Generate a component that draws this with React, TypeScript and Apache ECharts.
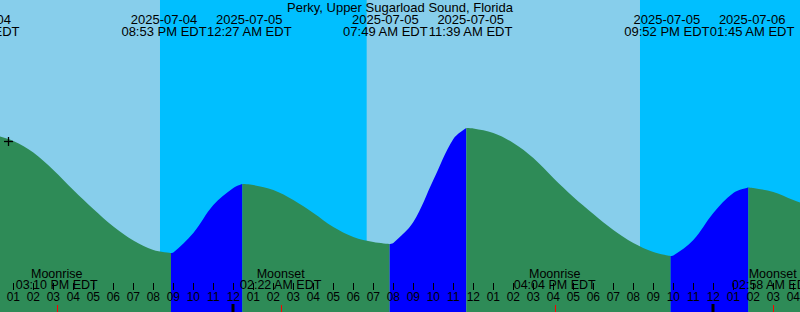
import React, { useEffect, useRef } from 'react';
import * as echarts from 'echarts';

const stationName = 'Perky, Upper Sugarload Sound, Florida';

// Hours since 2025-07-04 12:00 PM EDT, and water level (ft) read at each hour
const hours = [0, 1, 2, 3, 4, 5, 6, 7, 8, 9, 10, 11, 12, 13, 14, 15, 16, 17, 18, 19, 20,
  21, 22, 23, 24, 25, 26, 27, 28, 29, 30, 31, 32, 33, 34, 35, 36, 37, 38, 39, 40, 41];
const levels = [1.55, 1.49, 1.375, 1.2, 1.0, 0.81, 0.635, 0.495, 0.4, 0.375, 0.57, 0.85, 1.02,
  1.05, 1.0, 0.9, 0.77, 0.63, 0.53, 0.48, 0.47, 0.68, 1.1, 1.51, 1.615, 1.57, 1.47, 1.32,
  1.12, 0.93, 0.76, 0.6, 0.47, 0.38, 0.345, 0.5, 0.77, 0.97, 1.02, 0.98, 0.9, 0.83];

// Tide extremes
const tideKinds = ['High', 'Low', 'High', 'Low', 'High', 'Low', 'High'];
const tideDates = ['2025-07-04', '2025-07-04', '2025-07-05', '2025-07-05', '2025-07-05', '2025-07-05', '2025-07-06'];
const tideClock = ['11:13 AM EDT', '08:53 PM EDT', '12:27 AM EDT', '07:49 AM EDT', '11:39 AM EDT', '09:52 PM EDT', '01:45 AM EDT'];
const tideLevels = [1.57, 0.37, 1.06, 0.46, 1.62, 0.34, 1.025];

// Moon events
const moonKinds = ['Moonrise', 'Moonset', 'Moonrise', 'Moonset'];
const moonDates = ['2025-07-04', '2025-07-05', '2025-07-05', '2025-07-06'];
const moonClock = ['03:10 PM EDT', '02:22 AM EDT', '04:04 PM EDT', '02:58 AM EDT'];

// Sun events
const sunKinds = ['Sunset', 'Sunrise', 'Sunset', 'Sunrise'];
const sunDates = ['2025-07-04', '2025-07-05', '2025-07-05', '2025-07-06'];
const sunClock = ['08:20 PM EDT', '06:40 AM EDT', '08:20 PM EDT', '06:41 AM EDT'];

// Current-time marker
const nowDate = '2025-07-04';
const nowClock = '12:45 PM EDT';
const nowLevel = 1.49;

const X_MIN = 0;
const X_MAX = 41;
const Y_MIN = -0.22;
const Y_MAX = 2.9;

const DAY = '#87CEEB';
const NIGHT = '#00BFFF';
const FALLING = '#2E8B57';
const RISING = '#0000FF';
const FONT = '"Liberation Sans", Arial, sans-serif';

const toHours = (date: string, clock: string) => {
  const day = Number(date.slice(8, 10)) - 4;
  const [hm, ampm] = clock.split(' ');
  const [h, m] = hm.split(':').map(Number);
  const h24 = (h % 12) + (ampm === 'PM' ? 12 : 0);
  return day * 24 + h24 + m / 60 - 12;
};

export default function App() {
  const ref = useRef<HTMLDivElement>(null);

  useEffect(() => {
    if (!ref.current) return;
    const chart = echarts.init(ref.current, null, { renderer: 'svg' });

    const tideTimes = tideDates.map((d, i) => toHours(d, tideClock[i]));
    const moonTimes = moonDates.map((d, i) => toHours(d, moonClock[i]));
    const sunTimes = sunDates.map((d, i) => toHours(d, sunClock[i]));
    const nowTime = toHours(nowDate, nowClock);

    const pts: [number, number][] = hours.map((h, i) => [h, levels[i]] as [number, number]);
    tideTimes.forEach((t, i) => pts.push([t, tideLevels[i]]));
    pts.sort((a, b) => a[0] - b[0]);

    const nights: any[] = [];
    for (let i = 0; i < sunKinds.length; i++) {
      if (sunKinds[i] === 'Sunset') {
        const end = i + 1 < sunTimes.length ? sunTimes[i + 1] : X_MAX;
        nights.push([{ xAxis: sunTimes[i] }, { xAxis: Math.min(end, X_MAX) }]);
      }
    }

    const segSeries: any[] = [];
    for (let i = 0; i < tideTimes.length; i++) {
      const start = tideTimes[i];
      const end = i + 1 < tideTimes.length ? tideTimes[i + 1] : Infinity;
      const rising = tideKinds[i] === 'Low';
      const data = pts.filter((p) => p[0] >= start - 1e-9 && p[0] <= end + 1e-9);
      segSeries.push({
        type: 'line',
        z: 2,
        data,
        smooth: 0.35,
        symbol: 'none',
        silent: true,
        lineStyle: { width: 0, opacity: 0 },
        areaStyle: { color: rising ? RISING : FALLING, opacity: 1, origin: 'start' },
        ...(i === 0
          ? {
              markArea: {
                silent: true,
                z: 1,
                itemStyle: { color: NIGHT, opacity: 1, borderWidth: 0 },
                label: { show: false },
                data: nights,
              },
            }
          : {}),
      });
    }

    const measure = document.createElement('canvas').getContext('2d')!;
    measure.font = `13px ${FONT}`;
    const labelWidth = Math.max(...tideClock.map((c) => measure.measureText(c).width));

    const textStyle = (text: string, size: number) => ({
      text,
      fill: '#000',
      font: `${size}px ${FONT}`,
      align: 'center',
      verticalAlign: 'middle',
    });

    const option: any = {
      animation: false,
      backgroundColor: DAY,
      title: {
        text: stationName,
        left: 'center',
        top: 1.3,
        padding: 0,
        textStyle: { fontSize: 13, fontWeight: 'normal', fontFamily: FONT, color: '#000' },
      },
      grid: {
        left: -6.667,
        right: -13.333,
        top: 0,
        bottom: 0,
        containLabel: false,
        outerBoundsMode: 'none',
      },
      xAxis: {
        type: 'value',
        min: X_MIN,
        max: X_MAX,
        interval: 1,
        z: 5,
        axisLine: { show: false },
        splitLine: { show: false },
        axisTick: { show: true, inside: true, length: 7, lineStyle: { color: '#000', width: 1 } },
        axisLabel: {
          inside: true,
          margin: 9,
          color: '#000',
          fontSize: 12,
          fontFamily: FONT,
          hideOverlap: false,
          formatter: (v: number) => String(((Math.round(v) + 11) % 12) + 1).padStart(2, '0'),
        },
      },
      yAxis: { type: 'value', min: Y_MIN, max: Y_MAX, show: false },
      series: [
        ...segSeries,
        {
          type: 'custom',
          z: 8,
          silent: true,
          data: tideTimes.map((t, i) => [t, tideLevels[i]]),
          renderItem: (params: any, api: any) => {
            const xs = tideTimes.map((t) => api.coord([t, 0])[0]);
            for (let i = 0; i < xs.length - 1; i++) {
              if (xs[i + 1] - xs[i] < labelWidth) {
                const m = (xs[i] + xs[i + 1]) / 2;
                xs[i] = m - labelWidth / 2;
                xs[i + 1] = m + labelWidth / 2;
              }
            }
            const x = xs[params.dataIndex];
            return {
              type: 'group',
              children: [
                { type: 'text', x, y: 19.5, style: textStyle(tideDates[params.dataIndex], 13) },
                { type: 'text', x, y: 31.6, style: textStyle(tideClock[params.dataIndex], 13) },
              ],
            };
          },
        },
        {
          type: 'custom',
          z: 8,
          silent: true,
          data: moonTimes.map((t) => [t, 0]),
          renderItem: (params: any, api: any) => {
            const p = api.coord([api.value(0), Y_MIN]);
            const x = p[0];
            return {
              type: 'group',
              children: [
                { type: 'text', x, y: 274, style: textStyle(moonKinds[params.dataIndex], 12.5) },
                { type: 'text', x, y: 285.2, style: textStyle(moonClock[params.dataIndex], 12.5) },
                {
                  type: 'line',
                  shape: { x1: Math.round(x) + 0.5, y1: p[1] - 7, x2: Math.round(x) + 0.5, y2: p[1] },
                  style: { stroke: '#FF0000', lineWidth: 1 },
                },
              ],
            };
          },
        },
        {
          type: 'custom',
          z: 8,
          silent: true,
          data: hours.filter((h) => (h + 12) % 24 === 0).map((h) => [h, 0]),
          renderItem: (params: any, api: any) => {
            const p = api.coord([api.value(0), Y_MIN]);
            return {
              type: 'rect',
              shape: { x: Math.round(p[0]) - 1.5, y: p[1] - 8, width: 3, height: 8 },
              style: { fill: '#000' },
            };
          },
        },
        {
          type: 'custom',
          z: 8,
          silent: true,
          data: [[nowTime, nowLevel]],
          renderItem: (params: any, api: any) => {
            const p = api.coord([api.value(0), api.value(1)]);
            const cx = Math.round(p[0]) + 0.5;
            const cy = Math.round(p[1]) + 0.5;
            return {
              type: 'group',
              children: [
                { type: 'line', shape: { x1: cx - 4.5, y1: cy, x2: cx + 4.5, y2: cy }, style: { stroke: '#000', lineWidth: 1.3 } },
                { type: 'line', shape: { x1: cx, y1: cy - 4.5, x2: cx, y2: cy + 4.5 }, style: { stroke: '#000', lineWidth: 1.3 } },
              ],
            };
          },
        },
      ],
    };

    chart.setOption(option);
    return () => chart.dispose();
  }, []);

  return (
    <div
      ref={ref}
      style={{ position: 'absolute', left: 0, top: 0, width: 800, height: 312 }}
    />
  );
}
